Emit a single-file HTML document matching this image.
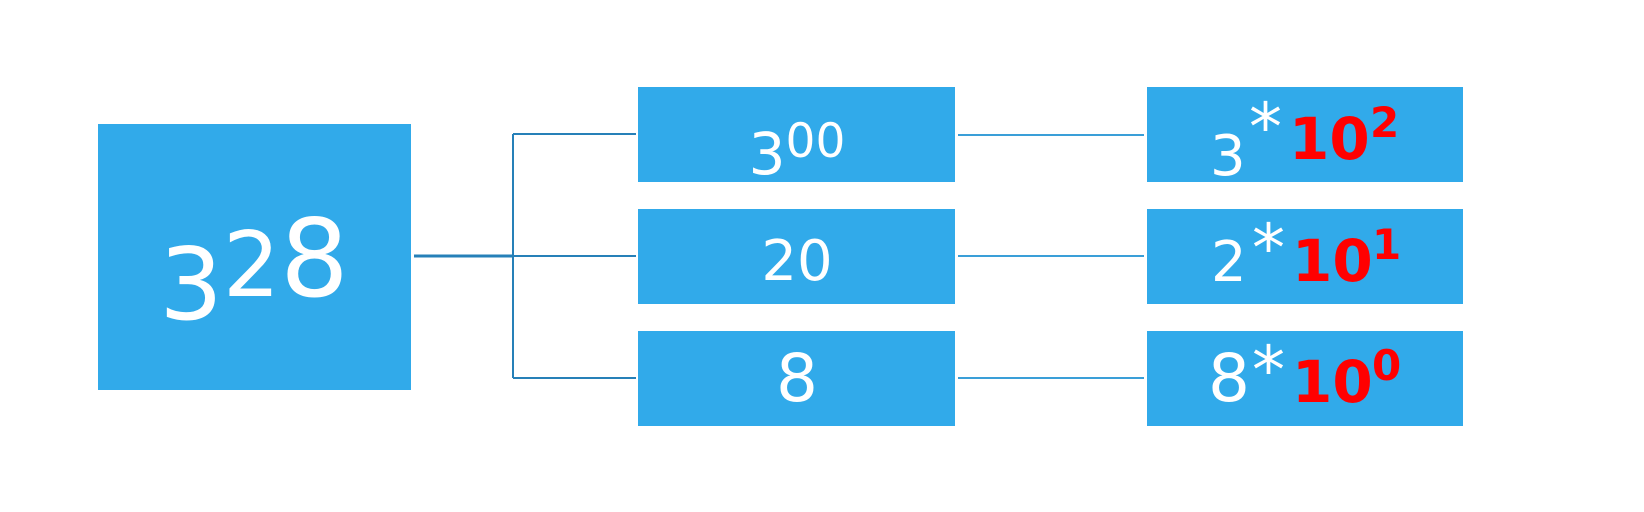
<!DOCTYPE html>
<html><head><meta charset="utf-8"><style>
html,body{margin:0;padding:0;background:#fff;width:1644px;height:512px;overflow:hidden}
svg{display:block}
text{font-family:"DejaVu Sans","Liberation Sans",sans-serif}
</style></head><body>
<svg width="1644" height="512" viewBox="0 0 1644 512">
  <g stroke="#2680b8" fill="none">
    <line x1="414" y1="256" x2="513" y2="256" stroke-width="3"/>
    <line x1="513" y1="134" x2="513" y2="378" stroke-width="2"/>
    <line x1="513" y1="134" x2="636" y2="134" stroke-width="2"/>
    <line x1="513" y1="256" x2="636" y2="256" stroke-width="2"/>
    <line x1="513" y1="378" x2="636" y2="378" stroke-width="2"/>
  </g>
  <g stroke="#3a9fd8" stroke-width="2">
    <line x1="958" y1="135" x2="1144" y2="135"/>
    <line x1="958" y1="256" x2="1144" y2="256"/>
    <line x1="958" y1="378" x2="1144" y2="378"/>
  </g>
  <rect x="98" y="124" width="313" height="266" fill="#31aaea"/>
  <text x="254" y="296" fill="#fff" text-anchor="middle"><tspan font-size="100" dy="23">3</tspan><tspan font-size="90" dy="-23">2</tspan><tspan font-size="108">8</tspan></text>

  <rect x="638" y="87" width="317" height="95" fill="#31aaea"/>
  <rect x="638" y="209" width="317" height="95" fill="#31aaea"/>
  <rect x="638" y="331" width="317" height="95" fill="#31aaea"/>
  <text x="797" y="157" fill="#fff" text-anchor="middle"><tspan font-size="58" dy="17">3</tspan><tspan font-size="47" dy="-17">00</tspan></text>
  <text x="797" y="280" fill="#fff" font-size="56" text-anchor="middle">20</text>
  <text x="797" y="401" fill="#fff" font-size="66" text-anchor="middle">8</text>

  <rect x="1147" y="87" width="316" height="95" fill="#31aaea"/>
  <rect x="1147" y="209" width="316" height="95" fill="#31aaea"/>
  <rect x="1147" y="331" width="316" height="95" fill="#31aaea"/>

  <g>
    <text x="1210" y="175" fill="#fff" font-size="56">3</text>
    <text x="1249" y="150" fill="#fff" font-size="66">*</text>
    <text x="1289" y="159" fill="#f00" font-size="58" font-weight="bold">10</text>
    <text x="1370" y="137" fill="#f00" font-size="42" font-weight="bold">2</text>
  </g>
  <g>
    <text x="1211" y="281" fill="#fff" font-size="56">2</text>
    <text x="1252" y="271" fill="#fff" font-size="66">*</text>
    <text x="1292" y="281" fill="#f00" font-size="58" font-weight="bold">10</text>
    <text x="1372" y="259" fill="#f00" font-size="42" font-weight="bold">1</text>
  </g>
  <g>
    <text x="1208" y="401" fill="#fff" font-size="66">8</text>
    <text x="1252" y="393" fill="#fff" font-size="66">*</text>
    <text x="1292" y="402" fill="#f00" font-size="58" font-weight="bold">10</text>
    <text x="1372" y="380" fill="#f00" font-size="42" font-weight="bold">0</text>
  </g>
</svg>
</body></html>
